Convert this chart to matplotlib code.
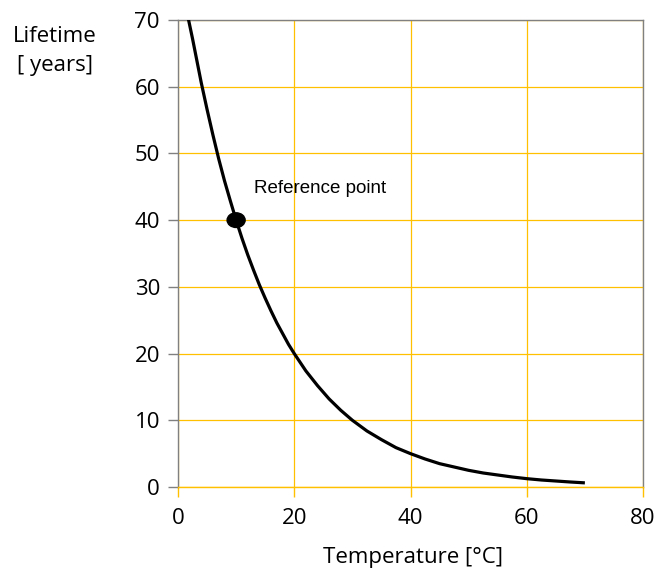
import matplotlib.pyplot as plt
from matplotlib.patches import Ellipse

# Werte
temperature = [1.7, 2.5, 3, 4, 5, 6, 7, 8, 9, 10, 11, 12, 13, 14, 15, 16, 17, 18, 19, 20,
               22, 24, 26, 28, 30, 32.5, 35, 37.5, 40, 42.5, 45, 47.5, 50, 52.5, 55,
               57.5, 60, 62.5, 65, 67.5, 70]
lifetime = [70.5, 67.2, 65.0, 60.6, 56.6, 52.8, 49.2, 45.9, 42.9, 40, 37.3, 34.8, 32.5, 30.3,
            28.3, 26.4, 24.6, 23.0, 21.4, 20, 17.4, 15.2, 13.2, 11.5, 10, 8.4, 7.1, 5.9,
            5.0, 4.2, 3.5, 3.0, 2.5, 2.1, 1.8, 1.5, 1.25, 1.05, 0.9, 0.75, 0.62]
ref_temp, ref_life = 10, 40
x_ticks = [0, 20, 40, 60, 80]
y_ticks = [0, 10, 20, 30, 40, 50, 60, 70]

gold = "#FFC000"
grey = "#808080"
plt.rcParams['font.family'] = ['Open Sans', 'DejaVu Sans']

fig = plt.figure(figsize=(6.57, 5.74), dpi=100)
ax = fig.add_axes([178 / 657, 1 - 487 / 574, (643 - 178) / 657, (487 - 20) / 574])

ax.plot(temperature, lifetime, color="black", lw=2.3, solid_capstyle="butt",
        solid_joinstyle="round", zorder=3)
ax.add_patch(Ellipse((ref_temp, ref_life), 3.1, 2.2, color="black", zorder=4))
ax.text(13.1, 44.7, "Reference point", fontsize=13.5, family="Liberation Sans", va="center")

ax.set_xlim(0, 80)
ax.set_ylim(0, 70)
ax.set_xticks(x_ticks)
ax.set_yticks(y_ticks)
ax.grid(True, color=gold, lw=0.9, zorder=0)
ax.set_axisbelow(True)

for s in ["left", "top", "right"]:
    ax.spines[s].set_color(grey)
    ax.spines[s].set_linewidth(1.0)
ax.spines["bottom"].set_color(gold)
ax.spines["bottom"].set_linewidth(1.0)

ax.tick_params(axis="y", colors=grey, length=7, width=1, labelcolor="black", labelsize=16, pad=6)
ax.tick_params(axis="x", colors=gold, length=7, width=1, labelcolor="black", labelsize=16, pad=8)

fig.text(55 / 657, 1 - 51 / 574, "Lifetime\n[ years]", ha="center", va="center", fontsize=16, linespacing=1.45)
fig.text(413 / 657, 1 - 557 / 574, "Temperature [°C]", ha="center", va="center", fontsize=16)

fig.savefig("out.png", dpi=100)
